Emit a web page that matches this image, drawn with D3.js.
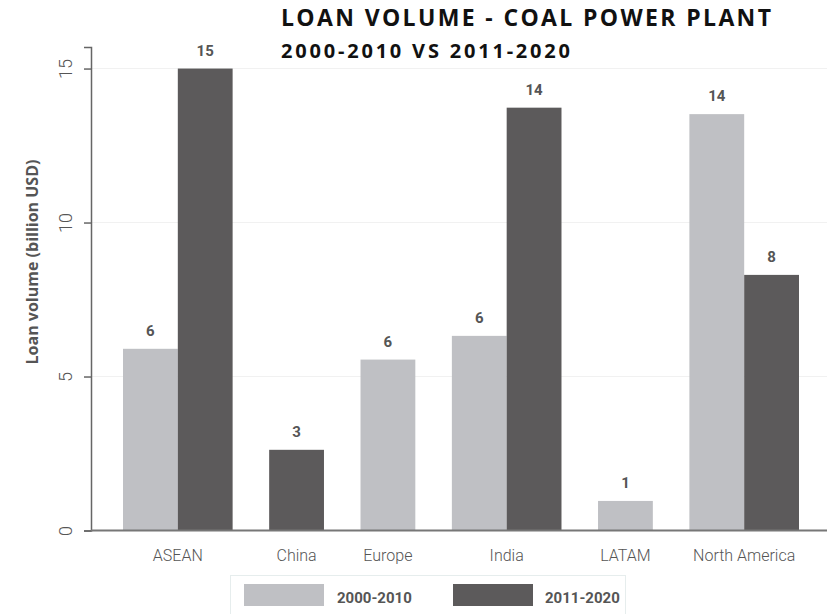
<!DOCTYPE html>
<html>
<head>
<meta charset="utf-8">
<script src="https://cdn.jsdelivr.net/npm/d3@7"></script>
<style>
  html, body { margin: 0; padding: 0; background: #fff; }
  svg { display: block; }
</style>
</head>
<body>
<div id="chart"></div>
<script>
// ---- data ----
const categories = ["ASEAN", "China", "Europe", "India", "LATAM", "North America"];
const seriesNames = ["2000-2010", "2011-2020"];
const values2000_2010 = [5.9, null, 5.55, 6.32, 0.96, 13.52];
const values2011_2020 = [15.0, 2.62, null, 13.73, null, 8.3];
const yTicks = [0, 5, 10, 15];
const titleLine1 = "LOAN VOLUME - COAL POWER PLANT";
const titleLine2 = "2000-2010 VS 2011-2020";
const yAxisTitle = "Loan volume (billion USD)";

// ---- layout ----
const W = 827, H = 614;
const margin = { top: 47, right: 0, bottom: 83.5, left: 91 };
const colors = ["#bfc0c4", "#5c5a5b"];
const textColor = "#555";
const seriesValues = [values2000_2010, values2011_2020];

const svg = d3.select("#chart").append("svg").attr("width", W).attr("height", H);

const y = d3.scaleLinear().domain([0, 15.7]).range([H - margin.bottom, margin.top]);

// build slots: each category only gets bars for the series it has
const gapUnits = 2 / 3;
let cursor = 0;
const groups = categories.map((c, i) => {
  const bars = [];
  seriesNames.forEach((s, si) => {
    const v = seriesValues[si][i];
    if (v !== null && v !== undefined) {
      bars.push({ cat: c, series: si, value: v, u0: cursor });
      cursor += 1;
    }
  });
  const g = { cat: c, bars, start: bars[0].u0, end: cursor };
  cursor += gapUnits;
  return g;
});
const totalUnits = cursor - gapUnits;
const x = d3.scaleLinear().domain([0, totalUnits]).range([margin.left + 32, W - 28]);
const allBars = groups.flatMap(g => g.bars);

// gridlines
svg.append("g").selectAll("line")
  .data(yTicks.filter(t => t > 0))
  .join("line")
  .attr("x1", margin.left).attr("x2", W)
  .attr("y1", d => y(d)).attr("y2", d => y(d))
  .attr("stroke", "#f1f1f1").attr("stroke-width", 1);

// bars
svg.append("g").selectAll("rect")
  .data(allBars)
  .join("rect")
  .attr("x", d => x(d.u0))
  .attr("width", d => x(d.u0 + 1) - x(d.u0))
  .attr("y", d => y(d.value))
  .attr("height", d => y(0) - y(d.value))
  .attr("fill", d => colors[d.series]);

// value labels
svg.append("g").selectAll("text")
  .data(allBars)
  .join("text")
  .attr("x", d => x(d.u0 + 0.5))
  .attr("y", d => y(d.value) - 13)
  .attr("text-anchor", "middle")
  .attr("font-family", "Roboto, 'Open Sans', sans-serif")
  .attr("font-weight", 700)
  .attr("font-size", 15)
  .attr("fill", textColor)
  .text(d => Math.round(d.value));

// y axis
const yAxis = d3.axisLeft(y).tickValues(yTicks).tickSize(7).tickFormat(d3.format("d"));
const yg = svg.append("g").attr("transform", `translate(${margin.left},0)`).call(yAxis);
yg.select(".domain").attr("stroke", "#666").attr("stroke-width", 1.5);
yg.selectAll(".tick line").attr("stroke", "#666").attr("stroke-width", 1.5);
yg.selectAll(".tick text")
  .attr("x", null).attr("dy", null)
  .attr("transform", "translate(-19,0) rotate(-90)")
  .attr("text-anchor", "middle")
  .attr("font-family", "'Liberation Sans Narrow', Roboto, sans-serif")
  .attr("font-size", 18)
  .attr("font-weight", 300)
  .attr("fill", textColor);

// x axis baseline
svg.append("line")
  .attr("x1", margin.left).attr("x2", W)
  .attr("y1", y(0)).attr("y2", y(0))
  .attr("stroke", "#777").attr("stroke-width", 2);

// category labels
svg.append("g").selectAll("text")
  .data(groups)
  .join("text")
  .attr("x", d => x((d.start + d.end) / 2))
  .attr("y", y(0) + 30.5)
  .attr("text-anchor", "middle")
  .attr("font-family", "Roboto, 'Open Sans', sans-serif")
  .attr("font-size", 16)
  .attr("font-weight", 300)
  .attr("fill", textColor)
  .text(d => d.cat);

// y axis title
svg.append("text")
  .attr("transform", `translate(38,262) rotate(-90)`)
  .attr("text-anchor", "middle")
  .attr("font-family", "'Open Sans', sans-serif")
  .attr("font-weight", 700)
  .attr("font-size", 16)
  .attr("fill", textColor)
  .text(yAxisTitle);

// title
svg.append("text")
  .attr("x", 281).attr("y", 26)
  .attr("font-family", "'Open Sans', sans-serif")
  .attr("font-weight", 700)
  .attr("font-size", 23)
  .attr("textLength", 490).attr("lengthAdjust", "spacing")
  .attr("fill", "#111")
  .text(titleLine1);
svg.append("text")
  .attr("x", 281).attr("y", 58)
  .attr("font-family", "'Open Sans', sans-serif")
  .attr("font-weight", 700)
  .attr("font-size", 20)
  .attr("textLength", 289).attr("lengthAdjust", "spacing")
  .attr("fill", "#111")
  .text(titleLine2);

// legend
const lg = svg.append("g");
lg.append("rect")
  .attr("x", 230.5).attr("y", 575.5).attr("width", 395).attr("height", 60)
  .attr("fill", "none").attr("stroke", "#e6eded").attr("stroke-width", 1);
const items = lg.selectAll("g.item")
  .data(seriesNames)
  .join("g").attr("class", "item")
  .attr("transform", (d, i) => `translate(${244 + i * 209},584)`);
items.append("rect")
  .attr("width", 80).attr("height", 22)
  .attr("fill", (d, i) => colors[i]);
items.append("text")
  .attr("x", (d, i) => 93 - i * 1)
  .attr("y", 19)
  .attr("font-family", "Roboto, 'Open Sans', sans-serif")
  .attr("font-weight", 700)
  .attr("font-size", 15)
  .attr("fill", textColor)
  .text(d => d);
</script>
</body>
</html>
